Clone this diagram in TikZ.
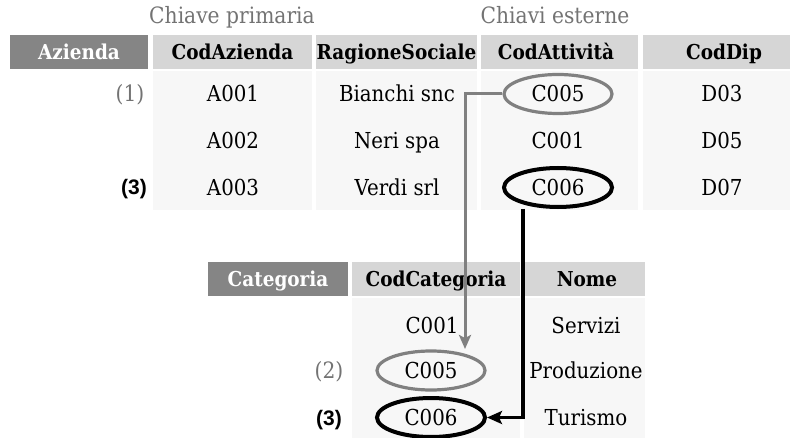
\documentclass[tikz,border=0pt]{standalone}
\usepackage{fontspec}
\setmainfont[FakeStretch=0.9]{DejaVu Serif}
\newfontfamily\labelsans{Liberation Sans}
\usetikzlibrary{arrows.meta,shapes.geometric}
\definecolor{namegray}{gray}{0.52}
\definecolor{headgray}{gray}{0.84}
\definecolor{datagray}{gray}{0.97}
\definecolor{linkgray}{gray}{0.5}
\definecolor{notegray}{gray}{0.45}
\newcommand\cellfont{\fontsize{22}{26}\selectfont}
\newcommand\headfont{\fontsize{20.5}{24}\selectfont\bfseries}
\begin{document}
\begin{tikzpicture}[x=1pt,y=-1pt,
  every node/.style={inner sep=0pt, outer sep=0pt},
  tname/.style={fill=namegray, text=white, font=\headfont,
    minimum height=34pt, text height=15pt, text depth=0pt},
  thead/.style={fill=headgray, font=\headfont,
    minimum height=34pt, text height=15pt, text depth=0pt},
  datum/.style={font=\cellfont, text height=16pt, text depth=0pt},
  keyring/.style={ellipse, minimum width=108pt, minimum height=39pt,
    fill=datagray, outer sep=2pt, datum},
  graykey/.style={keyring, draw=linkgray, line width=3.2pt},
  blackkey/.style={keyring, draw=black, line width=4pt},
  note/.style={font=\fontsize{22.5}{26}\selectfont, text=notegray},
  boldnote/.style={font=\labelsans\fontsize{21}{24}\selectfont\bfseries,
    text height=15pt, text depth=0pt},
  graylink/.style={draw=linkgray, line width=3pt,
    -{Stealth[length=14pt, width=12pt, inset=3pt]}},
  blacklink/.style={draw=black, line width=3.5pt,
    -{Stealth[length=15pt, width=13pt, inset=3pt]}}
]
\useasboundingbox (0,0) rectangle (791,438);

% captions above the first table
\node[note, anchor=base] (capP) at (232,24) {Chiave primaria};
\node[note, anchor=base] (capE) at (555,24) {Chiavi esterne};

% table Azienda: header row
\node[tname, minimum width=138pt] (hAz) at (79,52) {Azienda};
\node[thead, minimum width=159pt] (hCodAz) at (232.5,52) {CodAzienda};
\node[thead, minimum width=161pt] (hRag) at (396.5,52) {RagioneSociale};
\node[thead, minimum width=157pt] (hAtt) at (559.5,52) {};
\node[thead, minimum width=147pt] (hDip) at (716.5,52) {};
\node[thead, fill=none] (tAtt) at (556,52) {CodAttività};
\node[thead, fill=none] (tDip) at (724,52) {CodDip};

% table Azienda: data columns
\fill[datagray] (153,71) rectangle (312,210);
\fill[datagray] (316,71) rectangle (477,210);
\fill[datagray] (481,71) rectangle (638,210);
\fill[datagray] (643,71) rectangle (790,210);

% table Categoria: header row
\node[tname, minimum width=140pt] (hCat) at (278,279) {Categoria};
\node[thead, minimum width=168pt] (hCodCat) at (436,279) {CodCategoria};
\node[thead, minimum width=121pt] (hNome) at (584.5,279) {};
\node[thead, fill=none] (tNome) at (587,279) {Nome};

% table Categoria: data columns
\fill[datagray] (352,298) rectangle (520,438);
\fill[datagray] (524,298) rectangle (645,438);

% key rings on the linked codes
\coordinate (gx) at (465,0);
\coordinate (bx) at (523,0);
\path (558,94) coordinate (pA1) (558,187.5) coordinate (pA3)
      (431,370.5) coordinate (pB2) (431,417.5) coordinate (pB3);
\node[graykey] (ringA1) at (pA1) {C005};
\node[blackkey] (ringA3) at (pA3) {C006};
\node[graykey] (ringB2) at (pB2) {C005};
\node[blackkey] (ringB3) at (pB3) {C006};

% reference arrows from foreign key to primary key
\draw[graylink] (ringA1.west) -| (gx |- ringB2.north);
\draw[blacklink] (bx |- ringA3.south) |- (ringB3.east);

% table Azienda: rows
\node[note, text height=16pt, text depth=0pt] (n1) at (130,94) {(1)};
\node[datum] (a1) at (233,94) {A001};
\node[datum] (r1) at (397,94) {Bianchi snc};
\node[datum] (d1) at (722,94) {D03};

\node[datum] (a2) at (233,141) {A002};
\node[datum] (r2) at (397,141) {Neri spa};
\node[datum] (c2) at (558,141) {C001};
\node[datum] (d2) at (722,141) {D05};

\node[boldnote] (n3a) at (134,187.5) {(3)};
\node[datum] (a3) at (233,187.5) {A003};
\node[datum] (r3) at (397,187.5) {Verdi srl};
\node[datum] (d3) at (722,187.5) {D07};

% table Categoria: rows
\node[datum] (k1) at (432,325.5) {C001};
\node[datum] (m1) at (586,325.5) {Servizi};
\node[note, text height=16pt, text depth=0pt] (n2) at (329,370.5) {(2)};
\node[datum] (m2) at (586,370.5) {Produzione};
\node[boldnote] (n3b) at (329,417.5) {(3)};
\node[datum] (m3) at (586,417.5) {Turismo};
\end{tikzpicture}
\end{document}
